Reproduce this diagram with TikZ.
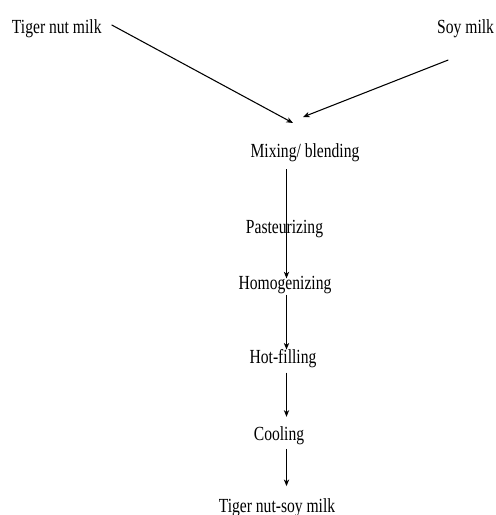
\documentclass[tikz,border=0pt]{standalone}
\usepackage{fontspec}
\setmainfont[FakeStretch=0.78]{Liberation Serif}
\usepackage{tikz}
\usetikzlibrary{arrows.meta,positioning}

\begin{document}
\begin{tikzpicture}[
    x=0.75pt, y=-0.75pt,
    label/.style={inner sep=0pt, outer sep=0pt, font=\fontsize{15}{17}\selectfont},
    arrow/.style={-{Stealth[length=5pt,width=4pt,inset=1.5pt]}, line width=0.8pt}
]
    \useasboundingbox (0,0) rectangle (496,515);

    % Two milks
    \node[label, anchor=base west] (tnm) at (12,33) {Tiger nut milk};
    \node[label, anchor=base east] (soy) at (494,33) {Soy milk};

    % Process steps
    \node[label, anchor=base] (mix) at (305,157) {Mixing/ blending};
    \node[label, anchor=base] (past) at (284.5,233) {Pasteurizing};
    \node[label, anchor=base] (homog) at (285,289) {Homogenizing};
    \node[label, anchor=base] (hot) at (283,363) {Hot-filling};
    \node[label, anchor=base] (cool) at (279,440) {Cooling};
    \node[label, anchor=base] (prod) at (277,512) {Tiger nut-soy milk};

    % Arrow column and inlets
    \coordinate (col) at (286.5,0);
    \coordinate (in1) at (293,123);
    \coordinate (in2) at (303,117);

    % Arrows into mixing
    \draw[arrow] ([xshift=7.5pt,yshift=2.5pt]tnm.east) -- (in1);
    \draw[arrow] ([xshift=-13pt,yshift=-17pt]soy.south) -- (in2);

    % Arrows down the line
    \draw[arrow, shorten <=6pt, shorten >=-2pt] (mix.south -| col) -- (homog.north -| col);
    \draw[arrow, shorten <=1pt, shorten >=-0.5pt] (homog.south -| col) -- (hot.north -| col);
    \draw[arrow, shorten <=4pt, shorten >=7pt] (hot.south -| col) -- (cool.north -| col);
    \draw[arrow, shorten <=3.5pt, shorten >=9pt] (cool.south -| col) -- (prod.north -| col);

\end{tikzpicture}
\end{document}
